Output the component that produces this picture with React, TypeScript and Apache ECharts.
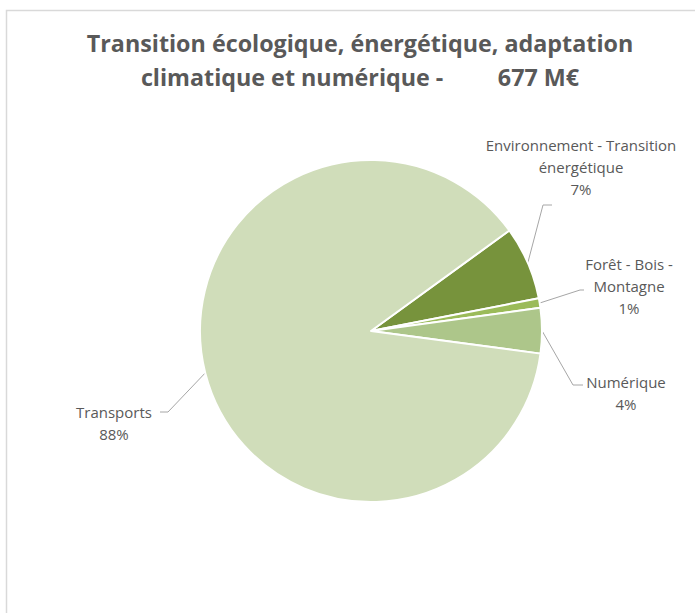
import React, { useEffect, useRef } from "react";
import * as echarts from "echarts";

const titleLines = [
  "Transition écologique, énergétique, adaptation",
  "climatique et numérique -         677 M€",
];
const categories = [
  "Environnement - Transition énergétique",
  "Forêt - Bois - Montagne",
  "Numérique",
  "Transports",
];
const wrappedNames = [
  "Environnement - Transition\nénergétique",
  "Forêt - Bois -\nMontagne",
  "Numérique",
  "Transports",
];
const values = [47, 6, 29, 595];
const colors = ["#77933c", "#9bbb59", "#adc68a", "#d0ddba"];

// label placement (center x, top y) and leader-line elbow / end
const labelBoxes = [
  { x: 581, y: 134, elbow: [543, 205], end: [552, 205] },
  { x: 629, y: 253, elbow: [580, 290], end: [584, 290] },
  { x: 626, y: 371, elbow: [573, 385], end: [583, 385] },
  { x: 114, y: 401, elbow: [168, 412], end: [160, 412] },
];

export default function App() {
  const ref = useRef<HTMLDivElement>(null);
  useEffect(() => {
    if (!ref.current) return;
    const chart = echarts.init(ref.current, undefined, { renderer: "svg" });
    chart.setOption({
      animation: false,
      backgroundColor: "#ffffff",
      graphic: [
        {
          type: "rect",
          shape: { x: 6.5, y: 10.5, width: 800, height: 700 },
          style: { fill: "none", stroke: "#d9d9d9", lineWidth: 1.5 },
          silent: true,
        },
        {
          type: "text",
          x: 360,
          y: 26,
          style: {
            text: titleLines.join("\n"),
            textAlign: "center",
            fontFamily: "Open Sans",
            fontWeight: "bold",
            fontSize: 23.3,
            lineHeight: 34,
            fill: "#595959",
          },
          silent: true,
        },
      ],
      series: [
        {
          type: "pie",
          center: [371, 331],
          radius: 171,
          startAngle: 36,
          clockwise: true,
          percentPrecision: 0,
          emphasis: { disabled: true },
          itemStyle: { borderColor: "#ffffff", borderWidth: 2 },
          label: {
            show: true,
            position: "outside",
            overflow: "none",
            formatter: (p: any) => wrappedNames[p.dataIndex] + "\n" + p.percent + "%",
            fontFamily: "Open Sans",
            fontSize: 15,
            lineHeight: 22,
            color: "#595959",
            align: "center",
          },
          labelLine: {
            show: true,
            length: 10,
            length2: 10,
            lineStyle: { color: "#a6a6a6", width: 1 },
          },
          labelLayout: (params: any) => {
            const b = labelBoxes[params.dataIndex];
            const p0 = params.labelLinePoints && params.labelLinePoints[0];
            const out: any = {
              x: b.x,
              y: b.y,
              align: "center",
              verticalAlign: "top",
            };
            if (p0) out.labelLinePoints = [p0, b.elbow, b.end];
            return out;
          },
          data: categories.map((name, i) => ({
            name,
            value: values[i],
            itemStyle: { color: colors[i] },
          })),
        },
      ],
    });
    return () => chart.dispose();
  }, []);
  return (
    <div
      ref={ref}
      style={{ position: "fixed", left: 0, top: 0, width: 695, height: 613 }}
    />
  );
}
